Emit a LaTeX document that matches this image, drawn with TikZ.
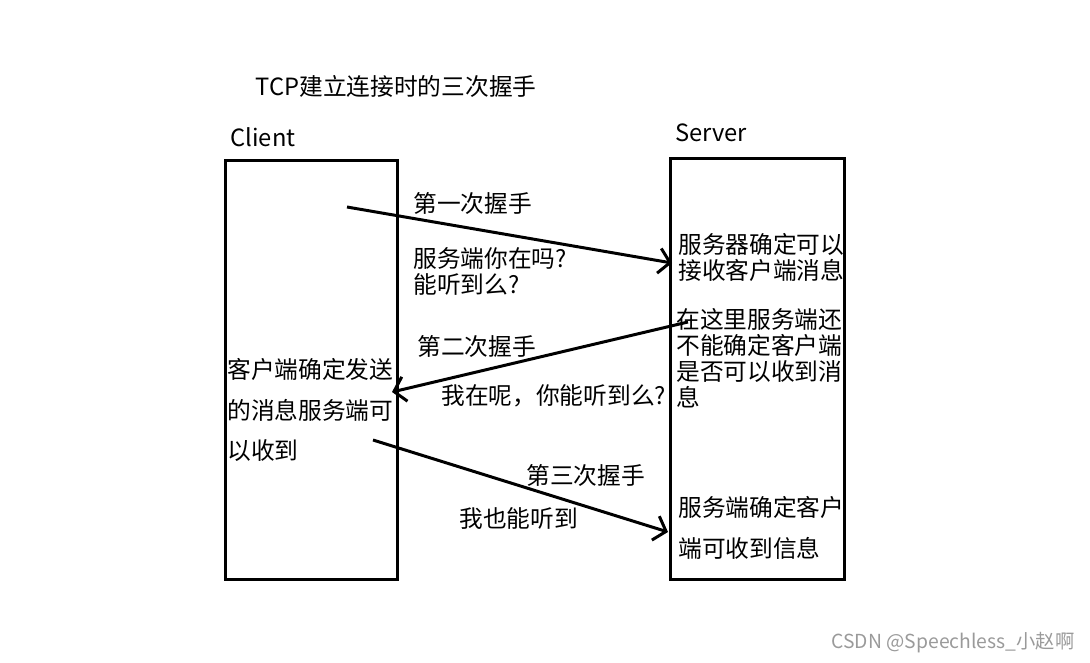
\documentclass[tikz,border=0pt]{standalone}
\usepackage{fontspec}
\setmainfont{Noto Sans CJK SC}
\usetikzlibrary{arrows.meta}
\definecolor{hsInk}{HTML}{000000}
\definecolor{hsMark}{HTML}{9a9a9a}
\tikzset{
  >={Straight Barb[length=2.2mm,width=5mm]},
  lane/.style={draw=hsInk, line width=1.7pt, fill=none, inner sep=0pt},
  txt/.style={font=\fontsize{13.5}{14.8}\selectfont, inner sep=0pt, anchor=west, align=left},
  wtxt/.style={font=\fontsize{13.5}{23}\selectfont, inner sep=0pt, anchor=west, align=left},
  msg/.style={->, draw=hsInk, line width=1.7pt},
  wmark/.style={font=\fontsize{11}{13}\selectfont, text=hsMark, inner sep=0pt},
}

\begin{document}
\begin{tikzpicture}[x=0.02cm,y=-0.02cm]
    \useasboundingbox (0,0) rectangle (1090,663);
    % title and lanes
    \node[txt,anchor=center] (title) at (396,86) {TCP建立连接时的三次握手};
    \node[txt,anchor=center] (cname) at (263,137) {Client};
    \node[txt,anchor=center] (sname) at (711,133) {Server};
    % state texts
    \node[wtxt] (cstate) at (227,410) {客户端确定发送\\的消息服务端可\\以收到};
    \node[txt] (s1) at (678,257) {服务器确定可以\\接收客户端消息};
    \node[txt] (s2) at (676,358) {在这里服务端还\\不能确定客户端\\是否可以收到消\\息};
    \node[wtxt] (s3) at (678,528) {服务端确定客户\\端可收到信息};
    \node[lane,minimum width=3.46cm,minimum height=8.4cm] (client) at (311.5,370) {};
    \node[lane,minimum width=3.5cm,minimum height=8.44cm] (server) at (757.5,369) {};
    % handshake messages
    \coordinate (a1) at (347,207);  \coordinate (b1) at (672,263);
    \coordinate (a2) at (688,322);  \coordinate (b2) at (392,392);
    \coordinate (a3) at (373,440);  \coordinate (b3) at (668,532);
    \draw[msg] (a1) -- (b1);
    \draw[msg] (a2) -- (b2);
    \draw[msg] (a3) -- (b3);
    \node[txt] (h1) at (413,203) {第一次握手};
    \node[txt] (q1) at (413,271) {服务端你在吗?\\能听到么?};
    \node[txt] (h2) at (417,346) {第二次握手};
    \node[txt] (q2) at (441,396) {我在呢，你能听到么?};
    \node[txt] (h3) at (526,475) {第三次握手};
    \node[txt] (q3) at (459,518) {我也能听到};
    \node[wmark] (wm) at (953,643) {CSDN @Speechless\_小赵啊};
\end{tikzpicture}
\end{document}
